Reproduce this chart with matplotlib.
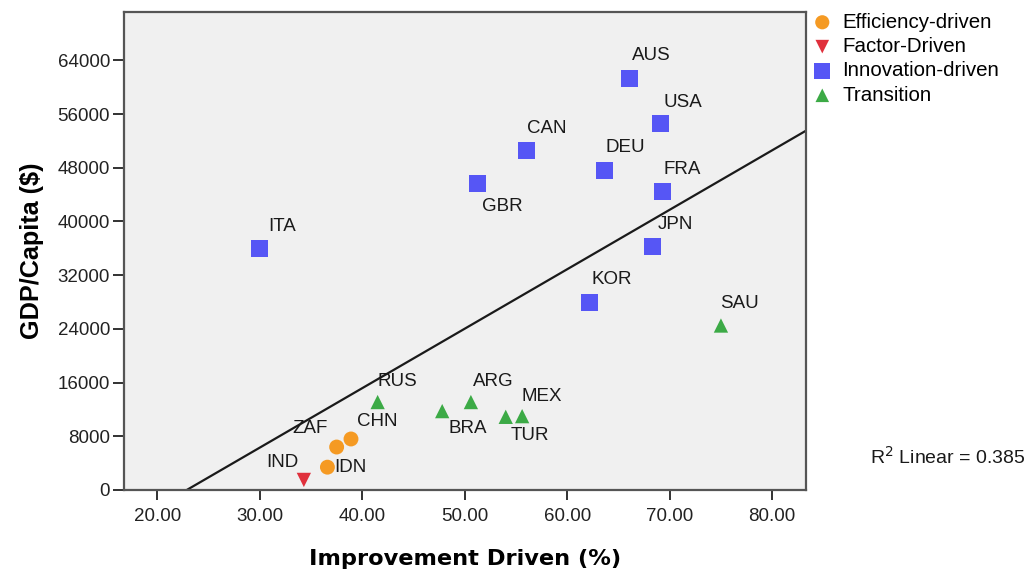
import numpy as np
import matplotlib.pyplot as plt

# values
countries = ['ITA', 'GBR', 'CAN', 'AUS', 'USA', 'DEU', 'FRA', 'JPN', 'KOR',
             'SAU', 'RUS', 'BRA', 'ARG', 'TUR', 'MEX',
             'CHN', 'ZAF', 'IDN', 'IND']
improvement = [30.0, 51.2, 56.0, 66.1, 69.1, 63.6, 69.3, 68.3, 62.2,
               75.0, 41.5, 47.8, 50.6, 54.0, 55.6,
               38.9, 37.5, 36.6, 34.3]
gdp_capita = [35900, 45700, 50500, 61300, 54600, 47600, 44500, 36300, 27900,
              24500, 13100, 11750, 13100, 10900, 11000,
              7600, 6400, 3400, 1500]
stage = ['Innovation-driven'] * 9 + ['Transition'] * 6 + \
        ['Efficiency-driven'] * 3 + ['Factor-Driven']
r2_text = 'R$^2$ Linear = 0.385'

# label offsets in pixels (dx, dy), dy up
label_offsets = {
    'ITA': (22, 22), 'GBR': (25, -23), 'CAN': (21, 22), 'AUS': (22, 23),
    'USA': (22, 21), 'DEU': (21, 23), 'FRA': (20, 22), 'JPN': (23, 22),
    'KOR': (22, 23), 'SAU': (19, 22), 'RUS': (20, 21), 'ARG': (22, 21),
    'BRA': (26, -17), 'MEX': (20, 20), 'TUR': (24, -19), 'CHN': (26, 17),
    'ZAF': (-27, 19), 'IDN': (23, 0), 'IND': (-21, 17),
}

styles = {
    'Efficiency-driven': dict(marker='o', color='#F59A23', s=115),
    'Factor-Driven': dict(marker='v', color='#E0303C', s=106),
    'Innovation-driven': dict(marker='s', color='#5656F5', s=150),
    'Transition': dict(marker='^', color='#3CAA46', s=106),
}

plt.rcParams['font.family'] = ['Liberation Sans', 'DejaVu Sans']

fig = plt.figure(figsize=(10.3, 5.76), dpi=100)
ax = fig.add_axes([124 / 1030, 86 / 576, 682 / 1030, 478 / 576])
ax.set_facecolor('#F0F0F0')

x = np.array(improvement)
y = np.array(gdp_capita)
st = np.array(stage)

for name in ['Efficiency-driven', 'Factor-Driven', 'Innovation-driven', 'Transition']:
    m = st == name
    ax.scatter(x[m], y[m], label=name, edgecolors='none', zorder=3, **styles[name])

# linear fit
slope, intercept = np.polyfit(x, y, 1)
xlim = (16.75, 83.3)
xs = np.array(xlim)
ax.plot(xs, slope * xs + intercept, color='#1a1a1a', lw=1.6, zorder=2)

for c, xi, yi in zip(countries, x, y):
    dx, dy = label_offsets[c]
    ax.annotate(c, (xi, yi), xytext=(dx * 0.72, dy * 0.72), textcoords='offset points',
                ha='center', va='center', fontsize=13.5, color='#1a1a1a', zorder=4)

ax.set_xlim(*xlim)
ax.set_ylim(0, 71200)
ax.set_xticks([20, 30, 40, 50, 60, 70, 80])
ax.set_xticklabels(['%.2f' % v for v in [20, 30, 40, 50, 60, 70, 80]])
ax.set_yticks(np.arange(0, 64001, 8000))
ax.tick_params(axis='x', length=7, width=1.3, pad=6, labelsize=13.5, colors='#222222')
ax.tick_params(axis='y', length=8, width=1.3, pad=2, labelsize=13.5, colors='#222222')
for sp in ax.spines.values():
    sp.set_color('#555555')
    sp.set_linewidth(1.6)

ax.set_xlabel('Improvement Driven (%)', fontsize=16.2, fontweight='bold',
              family='DejaVu Sans', labelpad=17)
ax.set_ylabel('GDP/Capita ($)', fontsize=18.2, fontweight='bold', labelpad=10)

fig.legend(loc='upper left', bbox_to_anchor=(812 / 1030, 0.978), frameon=False,
           fontsize=14.8, handletextpad=0.47, labelspacing=0.26, borderpad=0,
           markerscale=0.95, borderaxespad=0, handlelength=1.0)

fig.text(870 / 1030, 1 - 457 / 576, r2_text, fontsize=14, va='center', color='#1a1a1a')

fig.savefig('out.png', dpi=100)
